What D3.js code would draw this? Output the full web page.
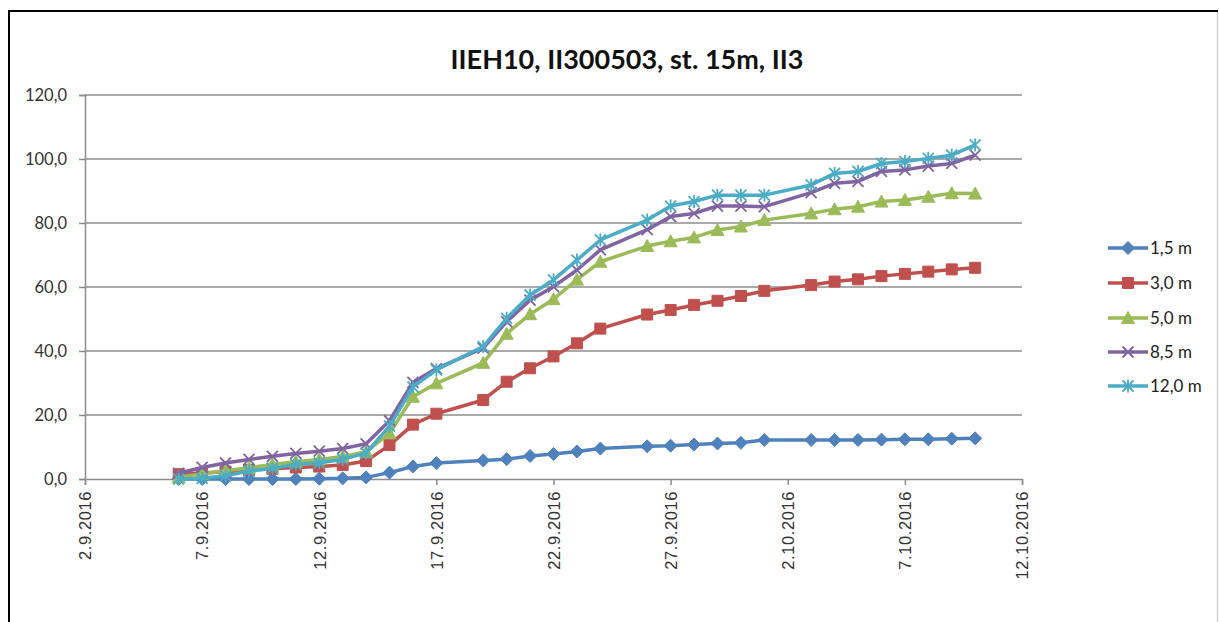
<!DOCTYPE html>
<html>
<head>
<meta charset="utf-8">
<script src="https://cdn.jsdelivr.net/npm/d3@7"></script>
<style>
  html, body { margin: 0; padding: 0; background: #fff; }
  svg { display: block; }
</style>
</head>
<body>
<svg id="chart" width="1219" height="622"></svg>
<script>
// ---- Data ----
const dates = [
  "2016-09-06","2016-09-07","2016-09-08","2016-09-09","2016-09-10","2016-09-11",
  "2016-09-12","2016-09-13","2016-09-14","2016-09-15","2016-09-16","2016-09-17",
  "2016-09-19","2016-09-20","2016-09-21","2016-09-22","2016-09-23","2016-09-24",
  "2016-09-26","2016-09-27","2016-09-28","2016-09-29","2016-09-30","2016-10-01",
  "2016-10-03","2016-10-04","2016-10-05","2016-10-06","2016-10-07","2016-10-08",
  "2016-10-09","2016-10-10"
];
const seriesNames = ["1,5 m", "3,0 m", "5,0 m", "8,5 m", "12,0 m"];
const s1_5 = [0,0,0,0,0,0,0.1,0.2,0.5,2.0,3.9,5.0, 5.8,6.2,7.2,7.8,8.6,9.5, 10.2,10.4,10.8,11.1,11.3,12.2, 12.2,12.2,12.2,12.3,12.4,12.4,12.6,12.7];
const s3_0 = [1.5,1.9,2.3,2.8,3.2,3.6,3.9,4.4,5.6,10.6,17.0,20.4, 24.7,30.4,34.6,38.3,42.4,47.0, 51.4,52.8,54.4,55.7,57.2,58.8, 60.6,61.7,62.4,63.4,64.1,64.8,65.5,66.0];
const s5_0 = [0.6,1.6,2.6,3.5,4.5,5.4,6.1,7.0,8.5,14.3,25.7,29.9, 36.3,45.4,51.5,56.2,62.3,67.9, 72.8,74.3,75.5,77.8,78.9,80.9, 83.0,84.3,85.1,86.7,87.2,88.2,89.3,89.2];
const s8_5 = [1.8,3.6,5.0,6.1,7.1,8.0,8.7,9.5,11.0,18.2,30.2,34.5, 40.9,49.2,55.9,60.1,65.3,71.6, 77.9,82.0,83.0,85.3,85.3,85.1, 89.5,92.4,93.0,96.1,96.6,97.8,98.6,101.2];
const s12_0 = [0,0.2,1.0,2.5,3.3,4.6,5.0,6.2,8.1,16.5,28.8,34.1, 41.4,50.2,57.5,62.2,68.4,74.7, 80.9,85.3,86.7,88.7,88.7,88.7, 91.9,95.5,96.1,98.6,99.2,100.2,101.2,104.4];
const seriesValues = [s1_5, s3_0, s5_0, s8_5, s12_0];
const xTickDates = ["2016-09-02","2016-09-07","2016-09-12","2016-09-17","2016-09-22","2016-09-27","2016-10-02","2016-10-07","2016-10-12"];
const yTicks = [0, 20, 40, 60, 80, 100, 120];
const title = "IIEH10, II300503, st. 15m, II3";

// ---- Style ----
const colors = ["#4F81BD", "#C0504D", "#9BBB59", "#8064A2", "#4BACC6"];
const markers = ["diamond", "square", "triangle", "x", "star"];

const parse = d3.utcParse("%Y-%m-%d");
const svg = d3.select("#chart");

// frame
svg.append("line").attr("x1", 9).attr("x2", 1218).attr("y1", 11).attr("y2", 11).attr("stroke", "#000").attr("stroke-width", 2);
svg.append("line").attr("x1", 9).attr("x2", 9).attr("y1", 10).attr("y2", 622).attr("stroke", "#000").attr("stroke-width", 2);
svg.append("line").attr("x1", 1217.5).attr("x2", 1217.5).attr("y1", 12).attr("y2", 622).attr("stroke", "#d0d0d0").attr("stroke-width", 1.5);

const x = d3.scaleUtc().domain([parse("2016-09-02"), parse("2016-10-12")]).range([85, 1022]);
const y = d3.scaleLinear().domain([0, 120]).range([479, 95]);

// gridlines
svg.append("g").selectAll("line").data(yTicks.filter(d => d > 0)).join("line")
  .attr("x1", 85).attr("x2", 1022)
  .attr("y1", d => y(d)).attr("y2", d => y(d))
  .attr("stroke", "#8c8c8c").attr("stroke-width", 1.5);

// y axis
const fmt = d => d3.format(".1f")(d).replace(".", ",");
const yAxis = svg.append("g").attr("transform", "translate(85,0)")
  .call(d3.axisLeft(y).tickValues(yTicks).tickFormat(fmt).tickSize(6).tickPadding(12));
yAxis.select(".domain").attr("stroke", "#8c8c8c").attr("stroke-width", 1.5);
yAxis.selectAll(".tick line").attr("stroke", "#8c8c8c").attr("stroke-width", 1.5);
yAxis.selectAll("text").attr("font-family", "Lato, 'Open Sans', sans-serif").attr("font-size", 16.5).attr("fill", "#333");

// x axis
const xAxis = svg.append("g").attr("transform", "translate(0,479)")
  .call(d3.axisBottom(x).tickValues(xTickDates.map(parse)).tickFormat(d3.utcFormat("%-d.%-m.%Y")).tickSize(6));
xAxis.select(".domain").attr("stroke", "#8c8c8c").attr("stroke-width", 1.5);
xAxis.selectAll(".tick line").attr("stroke", "#8c8c8c").attr("stroke-width", 1.5);
xAxis.selectAll("text")
  .attr("font-family", "'Liberation Sans', Arial, sans-serif").attr("font-size", 16.5).attr("fill", "#333")
  .attr("letter-spacing", "0.6px")
  .attr("text-anchor", "end").attr("dy", "0.35em")
  .attr("transform", "translate(0,12) rotate(-90)")
  .attr("x", 0).attr("y", 0);

// marker paths
function markerPath(type, s) {
  const h = s / 2;
  switch (type) {
    case "diamond": return `M0,${-h-1}L${h+1},0L0,${h+1}L${-h-1},0Z`;
    case "square": return `M${-h},${-h}H${h}V${h}H${-h}Z`;
    case "triangle": return `M0,${-h-1}L${h+1},${h}L${-h-1},${h}Z`;
    case "x": return `M${-h},${-h}L${h},${h}M${-h},${h}L${h},${-h}`;
    case "star": return `M${-h},${-h}L${h},${h}M${-h},${h}L${h},${-h}M0,${-h-1}V${h+1}`;
  }
}
function drawMarker(g, type, color) {
  const filled = (type === "diamond" || type === "square" || type === "triangle");
  g.append("path").attr("d", markerPath(type, 11))
    .attr("fill", filled ? color : "none")
    .attr("stroke", color)
    .attr("stroke-width", filled ? 1 : 1.8);
}

const line = d3.line().x(d => x(d.date)).y(d => y(d.v));
seriesValues.forEach((vals, i) => {
  const pts = vals.map((v, j) => ({ date: parse(dates[j]), v }));
  const g = svg.append("g");
  g.append("path").datum(pts).attr("d", line)
    .attr("fill", "none").attr("stroke", colors[i]).attr("stroke-width", 3.5).attr("stroke-linejoin", "round");
  pts.forEach(p => {
    const m = g.append("g").attr("transform", `translate(${x(p.date)},${y(p.v)})`);
    drawMarker(m, markers[i], colors[i]);
  });
});

// legend
const legY = [248, 283, 318, 352, 386];
seriesNames.forEach((name, i) => {
  const g = svg.append("g").attr("transform", `translate(0,${legY[i]})`);
  g.append("line").attr("x1", 1108).attr("x2", 1148).attr("y1", 0).attr("y2", 0)
    .attr("stroke", colors[i]).attr("stroke-width", 3.5);
  const m = g.append("g").attr("transform", "translate(1128,0)");
  drawMarker(m, markers[i], colors[i]);
  g.append("text").attr("x", 1150).attr("y", 0).attr("dy", "0.35em")
    .attr("font-family", "Lato, 'Open Sans', sans-serif").attr("font-size", 17).attr("fill", "#222")
    .text(name);
});

// title
svg.append("text").attr("x", 627).attr("y", 69).attr("text-anchor", "middle")
  .attr("font-family", "Lato, 'Open Sans', sans-serif").attr("font-weight", "bold").attr("font-size", 27)
  .attr("fill", "#111").text(title);
</script>
</body>
</html>
